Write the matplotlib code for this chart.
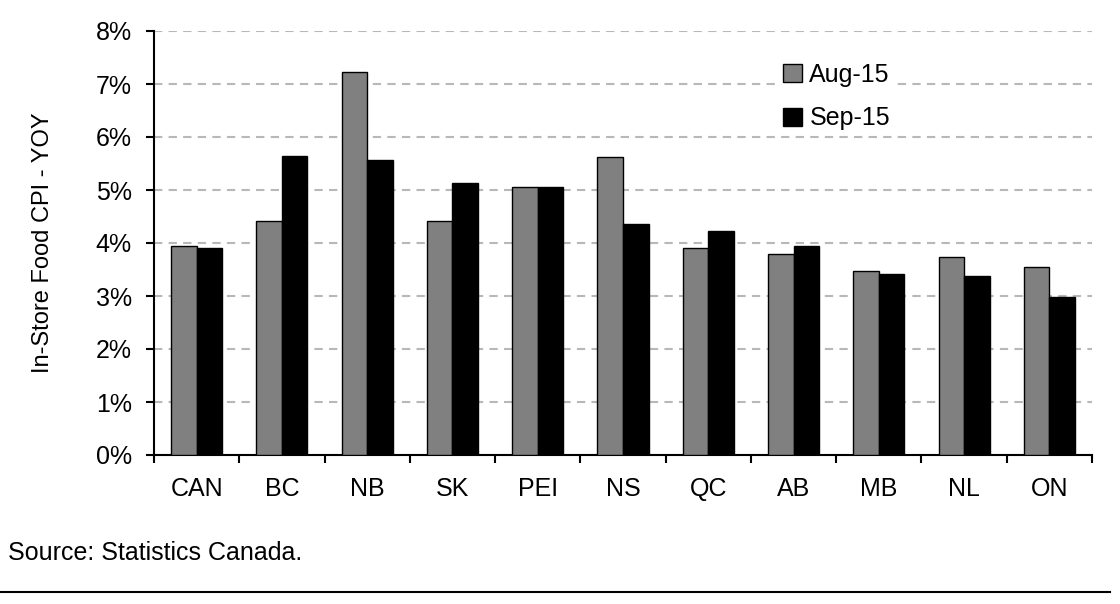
import numpy as np
import matplotlib
matplotlib.use('Agg')
import matplotlib.pyplot as plt
from matplotlib.ticker import FixedLocator, NullFormatter

plt.rcParams['font.family'] = ['Liberation Sans', 'DejaVu Sans']

# Data
provinces = ['CAN', 'BC', 'NB', 'SK', 'PEI', 'NS', 'QC', 'AB', 'MB', 'NL', 'ON']
aug_15 = [3.95, 4.41, 7.23, 4.41, 5.05, 5.63, 3.90, 3.80, 3.48, 3.74, 3.55]
sep_15 = [3.90, 5.65, 5.56, 5.13, 5.05, 4.35, 4.23, 3.94, 3.42, 3.37, 2.99]

fig = plt.figure(figsize=(11.2, 6.04), dpi=100)
ax = fig.add_axes([154 / 1120, 1 - 455 / 604, 938 / 1120, 424 / 604])

x = np.arange(len(provinces))
w = 0.3
ax.bar(x - w / 2, aug_15, w, color='#808080', edgecolor='black', linewidth=1.0,
       label='Aug-15', zorder=3)
ax.bar(x + w / 2, sep_15, w, color='black', edgecolor='black', linewidth=1.0,
       label='Sep-15', zorder=3)

ax.set_xlim(-0.5, len(provinces) - 0.5)
ax.set_ylim(0, 8)
ax.set_yticks(np.arange(0, 9, 1))
ax.set_yticklabels([f'{v}%' for v in range(9)], fontsize=18)

# tick marks at category boundaries, labels at centres
ax.xaxis.set_major_locator(FixedLocator(np.arange(-0.5, len(provinces), 1)))
ax.xaxis.set_major_formatter(NullFormatter())
ax.xaxis.set_minor_locator(FixedLocator(x))
ax.set_xticklabels(provinces, minor=True, fontsize=18)
ax.tick_params(axis='x', which='minor', length=0, pad=16)
ax.tick_params(axis='x', which='major', direction='out', length=6, width=1.5)
ax.tick_params(axis='y', direction='out', length=6, width=1.5, pad=10)

ax.grid(axis='y', linestyle=(0, (4, 3)), color='#b8b8b8', linewidth=1.5, zorder=0)
ax.set_axisbelow(True)
for s in ['top', 'right']:
    ax.spines[s].set_visible(False)
ax.spines['left'].set_linewidth(1.5)
ax.spines['bottom'].set_linewidth(1.5)

ax.set_ylabel('In-Store Food CPI - YOY', fontsize=17, labelpad=30)

leg = ax.legend(loc='upper left', bbox_to_anchor=(0.652, 0.966), frameon=True,
                facecolor='white', edgecolor='none', framealpha=1, fancybox=False,
                borderpad=0.2, fontsize=18, handlelength=0.75, handleheight=0.75,
                handletextpad=0.3, labelspacing=0.78)
leg.set_zorder(5)

fig.text(8 / 1120, 1 - 553 / 604, 'Source: Statistics Canada.', fontsize=18,
         va='center', ha='left')
fig.add_artist(plt.Line2D([0, 1110 / 1120], [1 - 592 / 604] * 2, color='black',
                          linewidth=1.5))

fig.savefig('out.png', dpi=100)
